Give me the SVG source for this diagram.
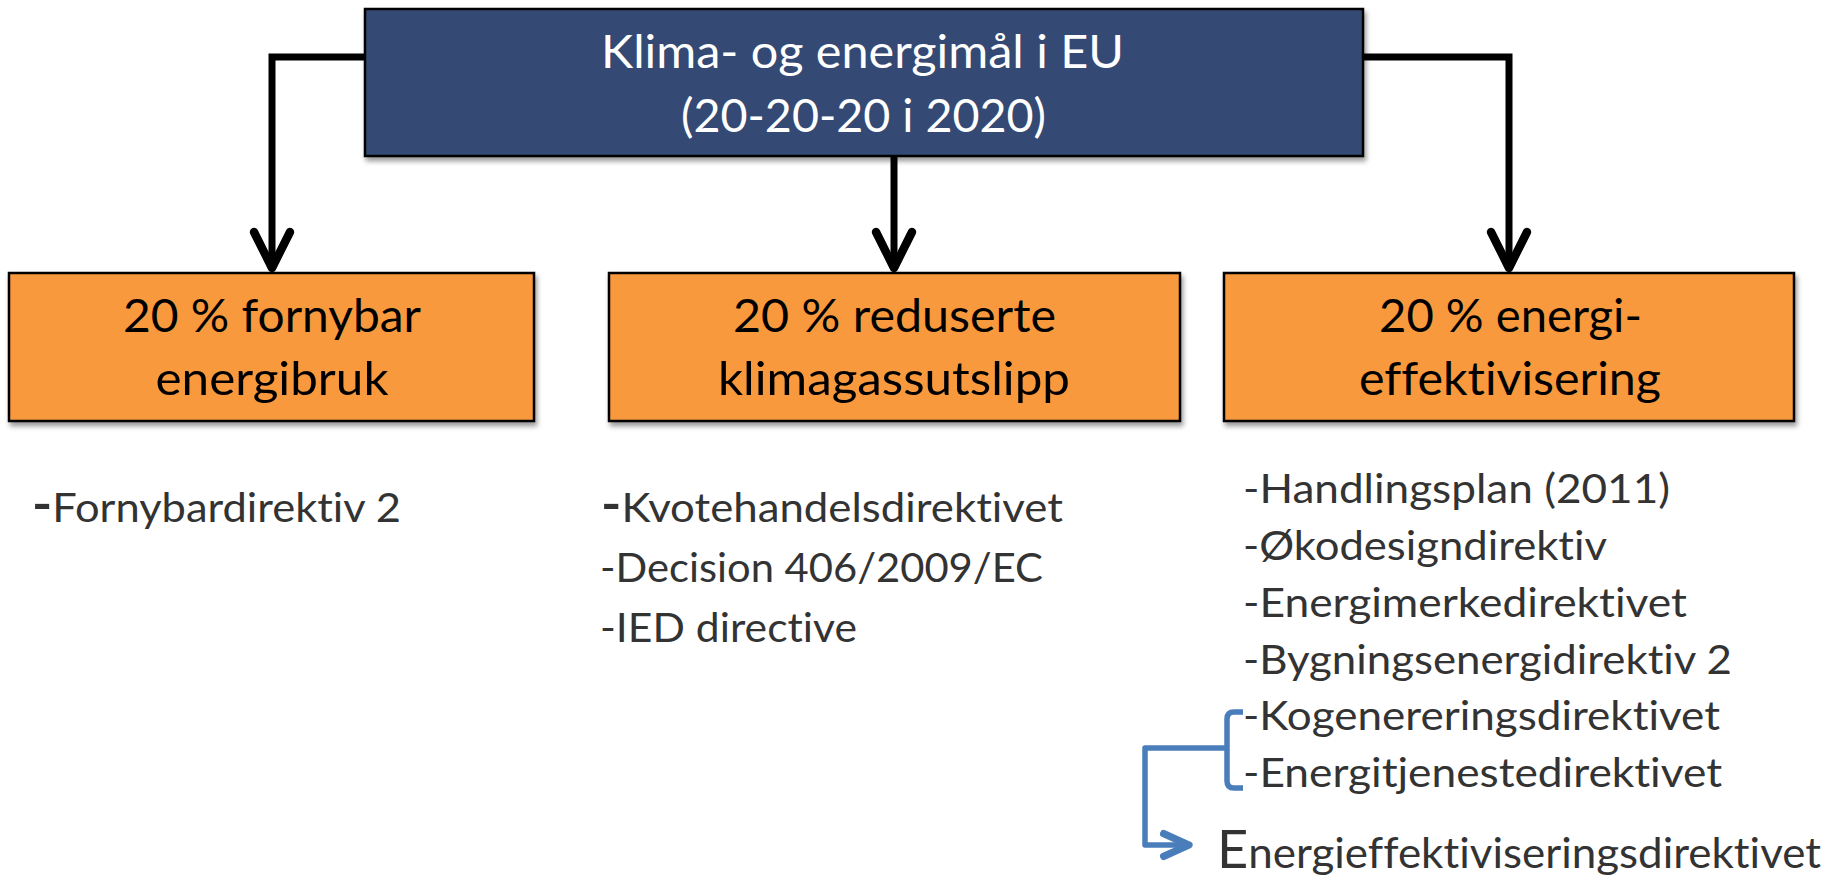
<svg xmlns="http://www.w3.org/2000/svg" width="1839" height="876" viewBox="0 0 1839 876">
<style>
.box{stroke:#000;stroke-width:2.5;}
.top{fill:#354A75;}
.goal{fill:#F8993C;}
.t{font-family:Lato,"Liberation Sans",Arial,sans-serif;font-variant-ligatures:none;}
.head{fill:#fff;font-size:47px;text-anchor:middle;}
.gt{fill:#000;font-size:47px;text-anchor:middle;}
.li{fill:#333;font-size:40px;}
.conn{fill:none;stroke:#000;stroke-width:7;stroke-linejoin:miter;}
.blue{fill:none;stroke:#4A7EBB;stroke-width:5.5;stroke-linejoin:round;}
</style>
<defs>
<filter id="sh" x="-5%" y="-5%" width="115%" height="125%">
<feDropShadow dx="2" dy="4" stdDeviation="2.5" flood-color="#000" flood-opacity="0.4"/>
</filter>
<marker id="ah" markerUnits="userSpaceOnUse" markerWidth="60" markerHeight="60" refX="0" refY="0" viewBox="-40 -25 50 50" orient="auto" overflow="visible">
<path d="M -30 -15 L 0 0 L -30 15" fill="none" stroke="#000" stroke-width="7" stroke-linecap="round" stroke-linejoin="round"/>
</marker>
<marker id="ahb" markerUnits="userSpaceOnUse" markerWidth="40" markerHeight="40" refX="0" refY="0" viewBox="-25 -15 30 30" orient="auto" overflow="visible">
<path d="M -19 -8.5 L 0 0 L -19 8.5" fill="none" stroke="#4A7EBB" stroke-width="5.5" stroke-linecap="round" stroke-linejoin="round"/>
</marker>
</defs>
<rect width="1839" height="876" fill="#fff"/>

<g id="connectors">
<path class="conn" d="M 366 57 H 272 V 268" marker-end="url(#ah)"/>
<path class="conn" d="M 894 157 V 268" marker-end="url(#ah)"/>
<path class="conn" d="M 1362 57 H 1509 V 268" marker-end="url(#ah)"/>
<path class="blue" d="M 1243 712 H 1234 Q 1227 712 1227 719 V 781 Q 1227 788 1234 788 H 1243"/>
<path class="blue" d="M 1229 748 H 1145 V 845 H 1189" marker-end="url(#ahb)"/>
</g>

<g id="node-top">
<rect class="box top" x="365" y="9" width="998" height="147" filter="url(#sh)"/>
<text class="t head" x="862.5" y="68" textLength="523" lengthAdjust="spacingAndGlyphs">Klima- og energimål i EU</text>
<text class="t head" x="863.5" y="132" textLength="365" lengthAdjust="spacingAndGlyphs">(20-20-20 i 2020)</text>
</g>

<g id="node-fornybar">
<rect class="box goal" x="9" y="273" width="525" height="148" filter="url(#sh)"/>
<text class="t gt" x="272" y="332" textLength="298" lengthAdjust="spacingAndGlyphs">20 % fornybar</text>
<text class="t gt" x="272" y="395" textLength="233" lengthAdjust="spacingAndGlyphs">energibruk</text>
</g>

<g id="node-klimagass">
<rect class="box goal" x="609" y="273" width="571" height="148" filter="url(#sh)"/>
<text class="t gt" x="894.5" y="332" textLength="323" lengthAdjust="spacingAndGlyphs">20 % reduserte</text>
<text class="t gt" x="894" y="395" textLength="352" lengthAdjust="spacingAndGlyphs">klimagassutslipp</text>
</g>

<g id="node-effektivisering">
<rect class="box goal" x="1224" y="273" width="570" height="148" filter="url(#sh)"/>
<text class="t gt" x="1510.5" y="332" textLength="263" lengthAdjust="spacingAndGlyphs">20 % energi-</text>
<text class="t gt" x="1510" y="395" textLength="302" lengthAdjust="spacingAndGlyphs">effektivisering</text>
</g>

<g id="list-fornybar">
<text class="t li" x="32" y="522" textLength="369" lengthAdjust="spacingAndGlyphs"><tspan font-size="50" font-weight="bold">-</tspan>Fornybardirektiv 2</text>
</g>

<g id="list-klimagass">
<text class="t li" x="601" y="522" textLength="462" lengthAdjust="spacingAndGlyphs"><tspan font-size="50" font-weight="bold">-</tspan>Kvotehandelsdirektivet</text>
<text class="t li" x="600" y="582" textLength="443" lengthAdjust="spacingAndGlyphs">-Decision 406/2009/EC</text>
<text class="t li" x="600" y="642" textLength="257" lengthAdjust="spacingAndGlyphs">-IED directive</text>
</g>

<g id="list-effektivisering">
<text class="t li" x="1243" y="503" textLength="427" lengthAdjust="spacingAndGlyphs">-Handlingsplan (2011)</text>
<text class="t li" x="1243" y="560" textLength="364" lengthAdjust="spacingAndGlyphs">-Økodesigndirektiv</text>
<text class="t li" x="1243" y="616.5" textLength="444" lengthAdjust="spacingAndGlyphs">-Energimerkedirektivet</text>
<text class="t li" x="1243" y="673.5" textLength="489" lengthAdjust="spacingAndGlyphs">-Bygningsenergidirektiv 2</text>
<text class="t li" x="1243" y="730" textLength="477" lengthAdjust="spacingAndGlyphs">-Kogenereringsdirektivet</text>
<text class="t li" x="1243" y="787" textLength="479" lengthAdjust="spacingAndGlyphs">-Energitjenestedirektivet</text>
</g>

<g id="node-eed">
<text class="t li" x="1217" y="868" textLength="604" lengthAdjust="spacingAndGlyphs"><tspan font-size="53">E</tspan><tspan font-size="43">nergieffektiviseringsdirektivet</tspan></text>
</g>
</svg>
